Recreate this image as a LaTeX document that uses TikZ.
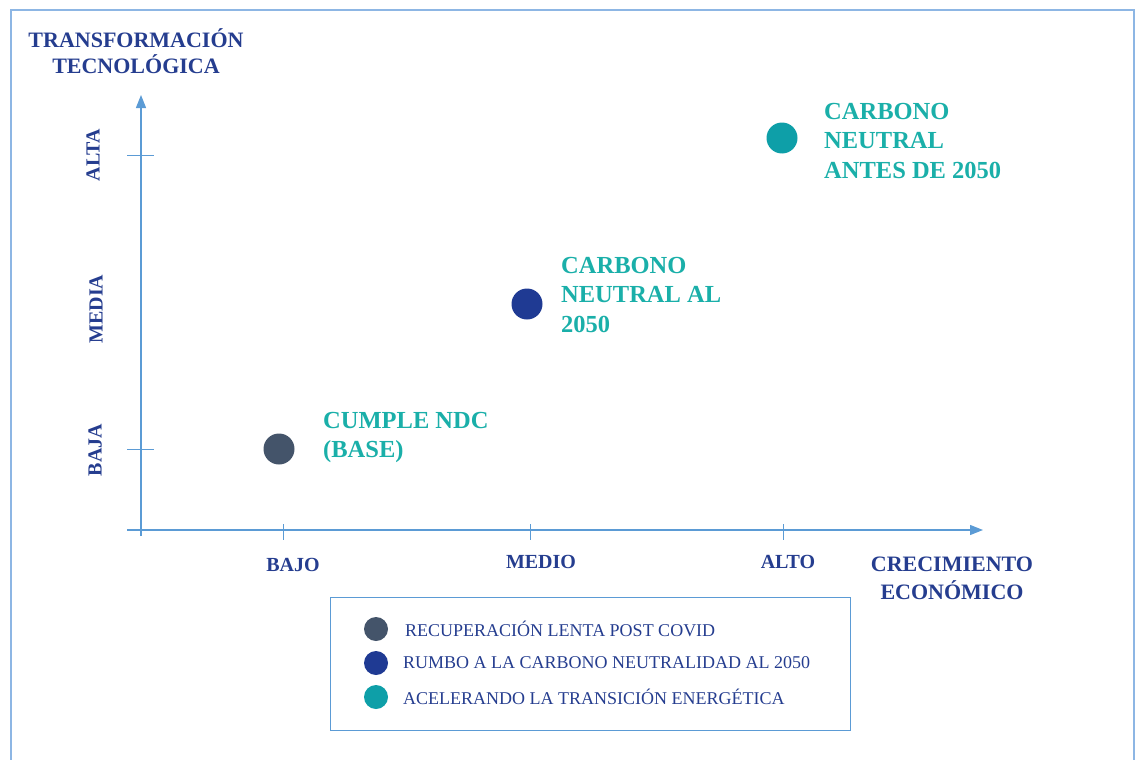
\documentclass[tikz,border=0pt]{standalone}
\usepackage{fontspec}
\setmainfont{Liberation Serif}
\usetikzlibrary{arrows.meta}

\definecolor{axisblue}{HTML}{5B9BD5}
\definecolor{frameblue}{HTML}{8DB6E4}
\definecolor{labnavy}{HTML}{253D8F}
\definecolor{scenteal}{HTML}{1AAFA9}
\definecolor{dotgray}{HTML}{44546A}
\definecolor{dotnavy}{HTML}{1F3A93}
\definecolor{dotteal}{HTML}{0E9FA8}

\begin{document}
\begin{tikzpicture}[x=1pt, y=-1pt]
\useasboundingbox (0,0) rectangle (1135,760);
\def\ox{141}
\def\oy{530}

% frame, open at the bottom
\draw[frameblue, line width=2pt] (11,770) -- (11,10) -- (1134,10) -- (1134,770);

% axes
\coordinate (yb) at (\ox, \oy+6);
\coordinate (yt) at (\ox, 95);
\coordinate (xl) at (\ox-14, \oy);
\coordinate (xr) at (983, \oy);
\draw[axisblue, line width=1.2pt, -{Triangle[length=13pt, width=10pt]}] (yb) -- (yt);
\draw[axisblue, line width=1.2pt, -{Triangle[length=13pt, width=10pt]}] (xl) -- (xr);

% ticks
\draw[axisblue, line width=1pt] (\ox-14, 155) -- (\ox+13, 155);
\draw[axisblue, line width=1pt] (\ox-14, 449) -- (\ox+13, 449);
\draw[axisblue, line width=1pt] (283, \oy-6) -- (283, \oy+10);
\draw[axisblue, line width=1pt] (530, \oy-6) -- (530, \oy+10);
\draw[axisblue, line width=1pt] (783, \oy-6) -- (783, \oy+10);

% axis titles
\node[align=center, anchor=north, inner sep=0pt, text=labnavy, font=\bfseries\fontsize{22}{26}\selectfont] (ytitle) at (136, 28) {TRANSFORMACIÓN\\TECNOLÓGICA};
\node[align=center, anchor=north, inner sep=0pt, text=labnavy, font=\bfseries\fontsize{22}{28}\selectfont] (xtitle) at (952, 557) {CRECIMIENTO\\ECONÓMICO};

% tick labels
\node[rotate=90, text=labnavy, font=\bfseries\fontsize{20}{24}\selectfont] (alta) at (93, 155) {ALTA};
\node[rotate=90, text=labnavy, font=\bfseries\fontsize{20}{24}\selectfont] (media) at (96, 309) {MEDIA};
\node[rotate=90, text=labnavy, font=\bfseries\fontsize{20}{24}\selectfont] (baja) at (95, 450) {BAJA};
\node[text=labnavy, font=\bfseries\fontsize{20}{24}\selectfont] (bajo) at (293, 565) {BAJO};
\node[text=labnavy, font=\bfseries\fontsize{20}{24}\selectfont] (medio) at (541, 562) {MEDIO};
\node[text=labnavy, font=\bfseries\fontsize{20}{24}\selectfont] (alto) at (788, 562) {ALTO};

% scenarios
\node[circle, fill=dotgray, minimum size=31pt, inner sep=0pt] (base) at (279, 449) {};
\node[circle, fill=dotnavy, minimum size=31pt, inner sep=0pt] (mid) at (527, 304) {};
\node[circle, fill=dotteal, minimum size=31pt, inner sep=0pt] (high) at (782, 138) {};

\node[align=left, anchor=north west, inner sep=0pt, text=scenteal, font=\bfseries\fontsize{24.5}{29.5}\selectfont] (baselab) at (323, 412) {CUMPLE NDC\\(BASE)};
\node[align=left, anchor=north west, inner sep=0pt, text=scenteal, font=\bfseries\fontsize{24.5}{29.5}\selectfont] (midlab) at (561, 257) {CARBONO\\NEUTRAL AL\\2050};
\node[align=left, anchor=north west, inner sep=0pt, text=scenteal, font=\bfseries\fontsize{24.5}{29.5}\selectfont] (highlab) at (824, 103) {CARBONO\\NEUTRAL\\ANTES DE 2050};

% legend
\draw[axisblue, line width=1pt] (330, 597) rectangle (850, 730);
\node[circle, fill=dotgray, minimum size=24pt, inner sep=0pt] (l1) at (376, 629) {};
\node[circle, fill=dotnavy, minimum size=24pt, inner sep=0pt] (l2) at (376, 663) {};
\node[circle, fill=dotteal, minimum size=24pt, inner sep=0pt] (l3) at (376, 697) {};
\node[anchor=west, inner sep=0pt, text=labnavy, font=\fontsize{18}{22}\selectfont] (t1) at (405, 629) {RECUPERACIÓN LENTA POST COVID};
\node[anchor=west, inner sep=0pt, text=labnavy, font=\fontsize{18}{22}\selectfont] (t2) at (403, 663) {RUMBO A LA CARBONO NEUTRALIDAD AL 2050};
\node[anchor=west, inner sep=0pt, text=labnavy, font=\fontsize{18}{22}\selectfont] (t3) at (403, 697) {ACELERANDO LA TRANSICIÓN ENERGÉTICA};
\end{tikzpicture}
\end{document}
